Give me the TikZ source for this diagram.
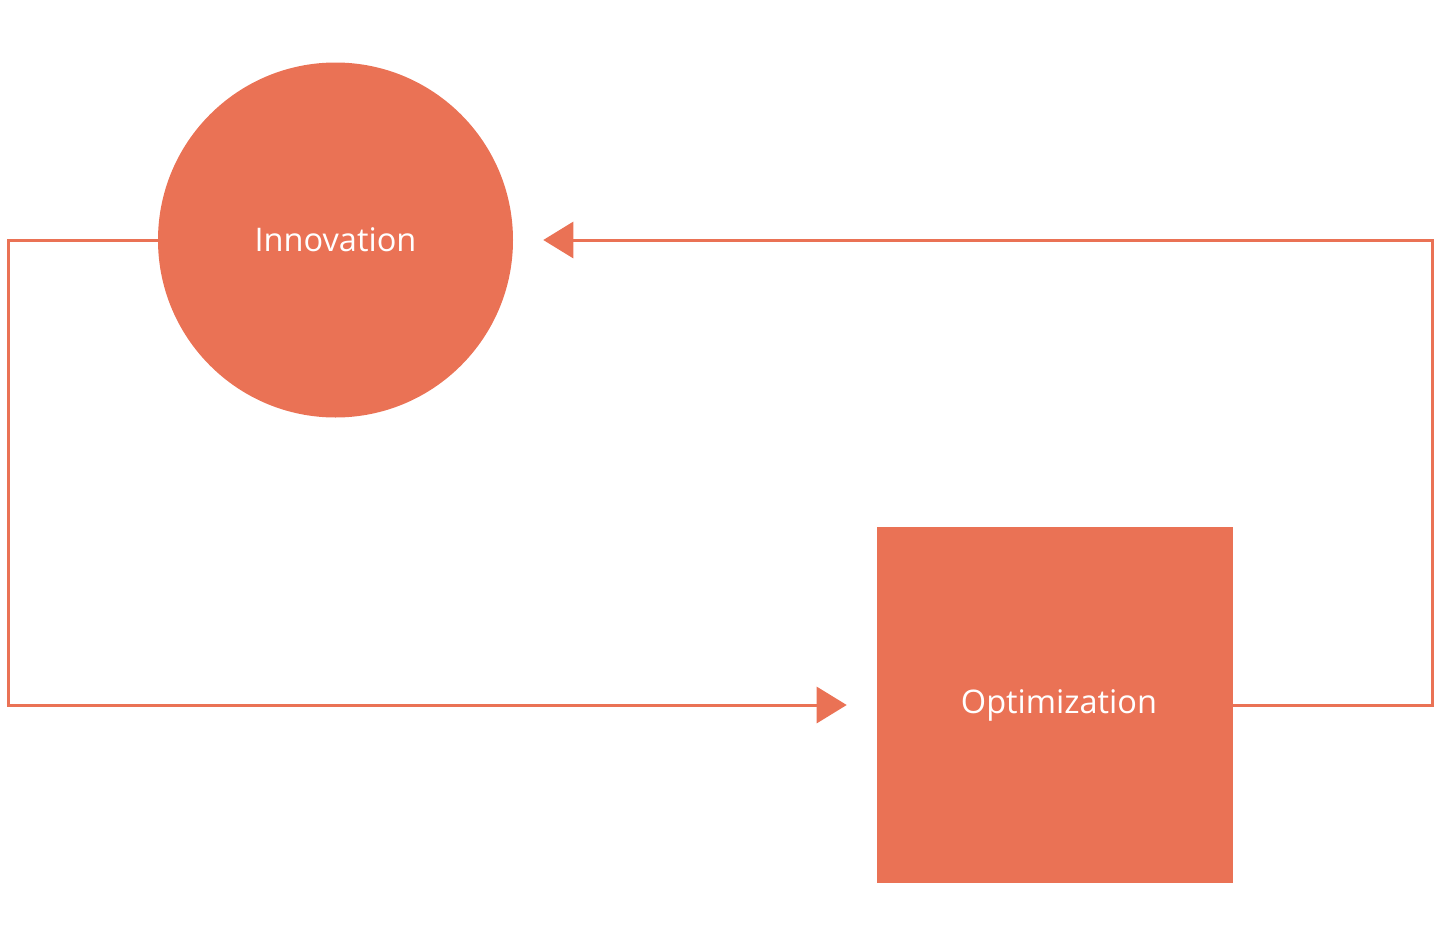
\documentclass[tikz,border=0pt]{standalone}
\usepackage{fontspec}
\setmainfont{Open Sans}
\usetikzlibrary{arrows.meta}
\definecolor{coral}{RGB}{234,114,85}
\begin{document}
\begin{tikzpicture}[x=0.75pt,y=-0.75pt,
  shapebox/.style={fill=coral,draw=none,inner sep=0pt,text=white,font=\fontsize{24.4pt}{29pt}\selectfont},
  conn/.style={draw=coral,line width=2.25pt,shorten >=22.5pt,-{Triangle[length=22.5pt,width=27pt]},miter limit=10}]
\useasboundingbox (0,0) rectangle (1440,946);
\node[shapebox,circle,minimum size=266.25pt] (inno) at (335.5,240) {Innovation};
\node[shapebox,rectangle,minimum size=267pt,text width=267pt,align=center] (opt) at (1055,705) {\hspace*{6pt}Optimization};
\coordinate (cl) at (8,240);
\coordinate (cr) at (1432,240);
\draw[conn] (inno.west) -- (cl) |- (opt.west);
\draw[conn,shorten >=0pt] (opt.east) -| (cr) -- ([xshift=22.5pt]inno.east);
\end{tikzpicture}
\end{document}
